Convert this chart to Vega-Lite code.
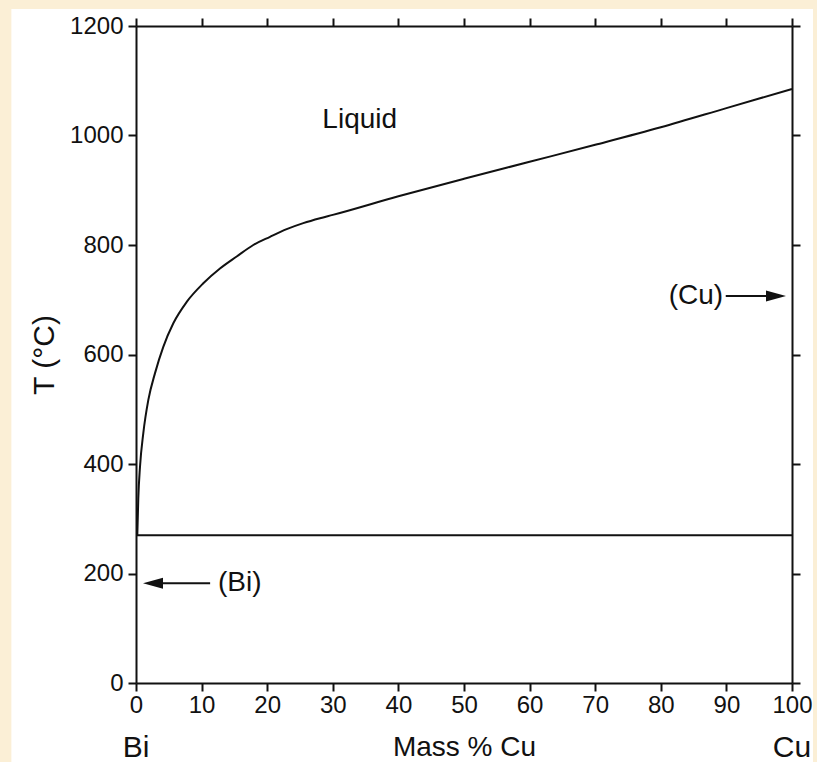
{
  "$schema": "https://vega.github.io/schema/vega-lite/v6.json",
  "width": 656,
  "height": 657,
  "autosize": "none",
  "padding": {"left": 136, "top": 26, "right": 25, "bottom": 79},
  "background": "#FBEFD6",
  "view": {"stroke": null},
  "config": {
    "font": "Liberation Sans",
    "axis": {
      "domainColor": "#111",
      "domainWidth": 2,
      "tickColor": "#111",
      "tickWidth": 2,
      "tickSize": 8,
      "grid": false,
      "labelColor": "#111",
      "titleColor": "#111",
      "labelFont": "Liberation Sans",
      "titleFont": "Liberation Sans",
      "labelFontSize": 24,
      "titleFontSize": 28,
      "titleFontWeight": "normal"
    }
  },
  "resolve": {"axis": {"x": "independent", "y": "independent"}},
  "layer": [
    {
      "data": {"values": [{}]},
      "mark": {"type": "rect", "fill": "white"},
      "encoding": {
        "x": {"datum": -19, "type": "quantitative", "scale": {"domain": [0, 100], "nice": false, "zero": false}, "axis": null},
        "x2": {"datum": 103.2},
        "y": {"datum": 1231, "type": "quantitative", "scale": {"domain": [0, 1200], "nice": false, "zero": false}, "axis": null},
        "y2": {"datum": -150}
      }
    },
    {
      "data": {"values": [
        {"x": 0.2, "T": 270}, {"x": 0.35, "T": 337}, {"x": 0.61, "T": 395}, {"x": 1.11, "T": 456},
        {"x": 1.88, "T": 517}, {"x": 2.9, "T": 566}, {"x": 4.16, "T": 614}, {"x": 5.69, "T": 657},
        {"x": 7.73, "T": 696}, {"x": 10.26, "T": 730}, {"x": 12.8, "T": 757}, {"x": 15.35, "T": 779},
        {"x": 17.88, "T": 800}, {"x": 20.43, "T": 815}, {"x": 22.97, "T": 829}, {"x": 25.5, "T": 840},
        {"x": 28.05, "T": 849}, {"x": 30.0, "T": 855}, {"x": 40.0, "T": 889}, {"x": 50.0, "T": 921},
        {"x": 60.0, "T": 952}, {"x": 70.0, "T": 983}, {"x": 80.0, "T": 1015}, {"x": 90.0, "T": 1050},
        {"x": 100.0, "T": 1085}
      ]},
      "mark": {"type": "line", "color": "#111", "strokeWidth": 2, "interpolate": "monotone"},
      "encoding": {
        "x": {"field": "x", "type": "quantitative", "scale": {"domain": [0, 100], "nice": false, "zero": false},
          "axis": {"orient": "bottom", "zindex": 1, "format": "d", "values": [0, 10, 20, 30, 40, 50, 60, 70, 80, 90, 100], "labelPadding": 2, "title": "Mass % Cu", "titlePadding": 16, "labelFlush": false}},
        "y": {"field": "T", "type": "quantitative", "scale": {"domain": [0, 1200], "nice": false, "zero": false},
          "axis": {"orient": "left", "zindex": 1, "format": "d", "values": [0, 200, 400, 600, 800, 1000, 1200], "labelPadding": 5, "title": "T (°C)", "titleFontSize": 30, "titlePadding": 10, "labelFlush": false}}
      }
    },
    {
      "data": {"values": [{"x": 0, "T": 270}, {"x": 100, "T": 270}]},
      "mark": {"type": "line", "color": "#111", "strokeWidth": 2},
      "encoding": {
        "x": {"field": "x", "type": "quantitative", "axis": {"orient": "top", "zindex": 1, "values": [0, 10, 20, 30, 40, 50, 60, 70, 80, 90, 100], "labels": false, "title": null}},
        "y": {"field": "T", "type": "quantitative", "axis": {"orient": "right", "zindex": 1, "values": [0, 200, 400, 600, 800, 1000, 1200], "labels": false, "title": null}}
      }
    },
    {
      "data": {"values": [{"from": 11.3, "to": 2.0, "T": 182}, {"from": 89.9, "to": 98.3, "T": 707}]},
      "mark": {"type": "rule", "color": "#111", "strokeWidth": 2},
      "encoding": {
        "x": {"field": "from", "type": "quantitative", "axis": null},
        "x2": {"field": "to"},
        "y": {"field": "T", "type": "quantitative", "axis": null}
      }
    },
    {
      "data": {"values": [{"x": 2.59, "T": 182, "dir": "left"}, {"x": 97.56, "T": 707, "dir": "right"}]},
      "mark": {"type": "point", "filled": true, "color": "#111", "opacity": 1, "size": 400, "strokeWidth": 0},
      "encoding": {
        "x": {"field": "x", "type": "quantitative", "axis": null},
        "y": {"field": "T", "type": "quantitative", "axis": null},
        "shape": {"field": "dir", "type": "nominal", "legend": null,
          "scale": {"domain": ["left", "right"], "range": ["M-1,0L1,-0.55L1,0.55Z", "M1,0L-1,-0.55L-1,0.55Z"]}}
      }
    },
    {
      "data": {"values": [{"x": 34.1, "T": 1028, "label": "Liquid"}]},
      "mark": {"type": "text", "fontSize": 28, "align": "center", "baseline": "middle", "color": "#111"},
      "encoding": {
        "x": {"field": "x", "type": "quantitative", "axis": null},
        "y": {"field": "T", "type": "quantitative", "axis": null},
        "text": {"field": "label"}
      }
    },
    {
      "data": {"values": [{"x": 12.5, "T": 182, "label": "(Bi)"}]},
      "mark": {"type": "text", "fontSize": 28, "align": "left", "baseline": "middle", "color": "#111"},
      "encoding": {
        "x": {"field": "x", "type": "quantitative", "axis": null},
        "y": {"field": "T", "type": "quantitative", "axis": null},
        "text": {"field": "label"}
      }
    },
    {
      "data": {"values": [{"x": 89.5, "T": 707, "label": "(Cu)"}]},
      "mark": {"type": "text", "fontSize": 28, "align": "right", "baseline": "middle", "color": "#111"},
      "encoding": {
        "x": {"field": "x", "type": "quantitative", "axis": null},
        "y": {"field": "T", "type": "quantitative", "axis": null},
        "text": {"field": "label"}
      }
    },
    {
      "data": {"values": [{"x": 0, "T": -135, "label": "Bi"}, {"x": 100, "T": -135, "label": "Cu"}]},
      "mark": {"type": "text", "fontSize": 30, "align": "center", "baseline": "alphabetic", "color": "#111"},
      "encoding": {
        "x": {"field": "x", "type": "quantitative", "axis": null},
        "y": {"field": "T", "type": "quantitative", "axis": null},
        "text": {"field": "label"}
      }
    }
  ]
}
